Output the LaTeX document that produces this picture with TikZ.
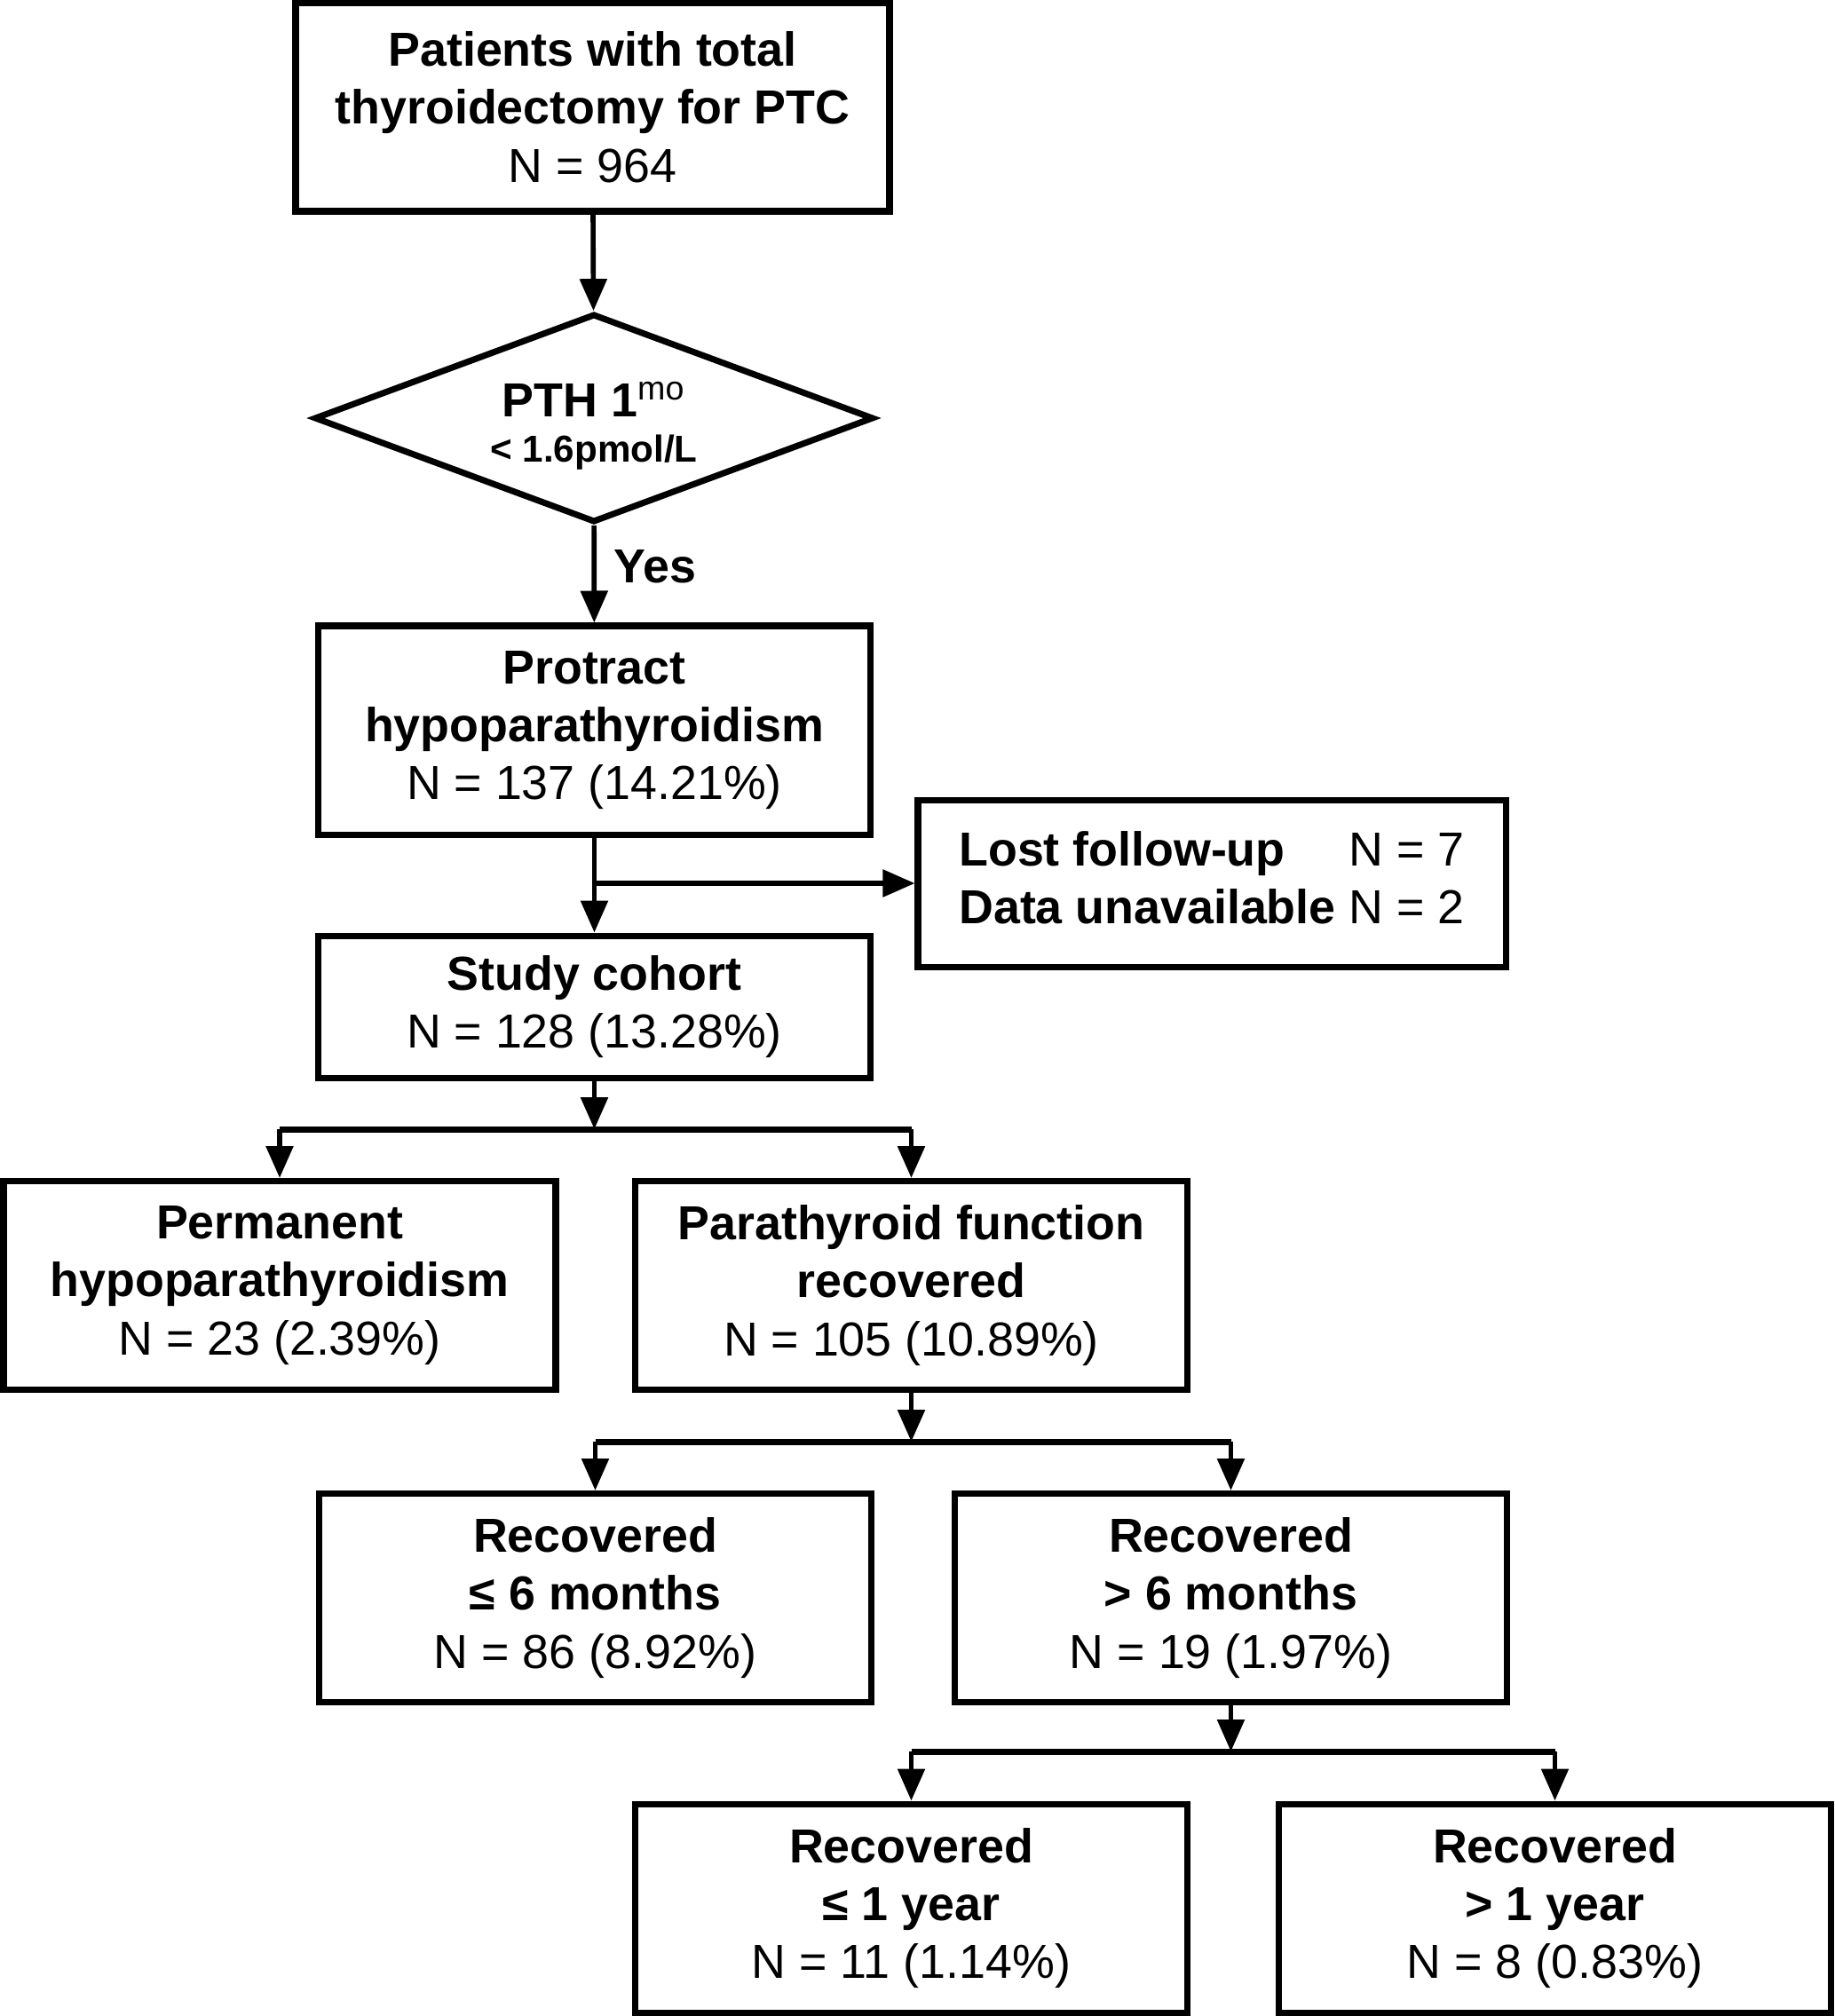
\documentclass[tikz,border=0pt]{standalone}
\usepackage{fontspec}
\setmainfont{Liberation Sans}
\usetikzlibrary{shapes.geometric,arrows.meta}
\begin{document}
\begin{tikzpicture}[
  every node/.style={font=\fontsize{15.3}{18.6}\selectfont},
  box/.style={draw, line width=2pt, minimum width=6.22cm, minimum height=2.35cm, align=center, inner sep=0pt},
  conn/.style={line width=1.6pt},
  arr/.style={conn, -{Triangle[length=0.36cm,width=0.3cm]}},
  bar/.style={line width=2pt}
]
\useasboundingbox (0,0) rectangle (20.67,-22.71);

\node[box, minimum width=6.69cm] (top) at (6.675,-1.205)
  {\textbf{Patients with total}\\ \textbf{thyroidectomy for PTC}\\ N = 964};

\node[draw, diamond, aspect=2.68, line width=2pt, minimum width=6.3cm, minimum height=2.35cm, inner sep=0pt] (dia) at (6.69,-4.71) {};
\node[align=center, inner sep=0pt] (diatext) at ([yshift=-0.09cm]dia.center)
  {\textbf{PTH 1}{\mdseries\textsuperscript{mo}}\\[-0.14cm]{\fontsize{12}{14}\selectfont\textbf{< 1.6pmol/L}}};

\node[box] (prot) at (6.695,-8.225)
  {\textbf{Protract}\\ \textbf{hypoparathyroidism}\\ N = 137 (14.21\%)};

\node[box, minimum width=6.62cm, minimum height=1.88cm] (lost) at (13.65,-9.95)
  {\begin{tabular}{@{}l@{\hspace{0.15cm}}l@{}}\textbf{Lost follow-up} & N = 7\\ \textbf{Data unavailable} & N = 2\end{tabular}};

\node[box, minimum height=1.6cm] (study) at (6.695,-11.34)
  {\textbf{Study cohort}\\ N = 128 (13.28\%)};

\node[box] (perm) at (3.15,-14.48)
  {\textbf{Permanent}\\ \textbf{hypoparathyroidism}\\ N = 23 (2.39\%)};

\node[box] (para) at (10.265,-14.48)
  {\textbf{Parathyroid function}\\ \textbf{recovered}\\ N = 105 (10.89\%)};

\node[box] (rsixa) at (6.705,-18.0)
  {\textbf{Recovered}\\ \textbf{≤ 6 months}\\ N = 86 (8.92\%)};

\node[box] (rsixb) at (13.865,-18.0)
  {\textbf{Recovered}\\ \textbf{> 6 months}\\ N = 19 (1.97\%)};

\node[box] (ryra) at (10.265,-21.495)
  {\textbf{Recovered}\\ \textbf{≤ 1 year}\\ N = 11 (1.14\%)};

\node[box] (ryrb) at (17.515,-21.495)
  {\textbf{Recovered}\\ \textbf{> 1 year}\\ N = 8 (0.83\%)};

% connectors
\draw[arr] (top) -- (dia);
\draw[arr] (dia) -- node[right, xshift=0.08cm, yshift=0.08cm, font=\fontsize{15.3}{18.6}\selectfont\bfseries] (yes) {Yes} (prot);
\draw[arr] (prot) -- (study);
\draw[arr] (prot.south |- lost.west) -- (lost.west);

\coordinate (j1) at (6.695,-12.72);
\draw[arr] (study) -- (j1);
\draw[bar] (perm |- j1) -- (para |- j1);
\draw[arr] (perm |- j1) -- (perm);
\draw[arr] (para |- j1) -- (para);

\coordinate (j2) at (10.265,-16.24);
\draw[arr] (para) -- (j2);
\draw[bar] (rsixa |- j2) -- (rsixb |- j2);
\draw[arr] (rsixa |- j2) -- (rsixa);
\draw[arr] (rsixb |- j2) -- (rsixb);

\coordinate (j3) at (13.865,-19.73);
\draw[arr] (rsixb) -- (j3);
\draw[bar] (ryra |- j3) -- (ryrb |- j3);
\draw[arr] (ryra |- j3) -- (ryra);
\draw[arr] (ryrb |- j3) -- (ryrb);
\end{tikzpicture}
\end{document}
